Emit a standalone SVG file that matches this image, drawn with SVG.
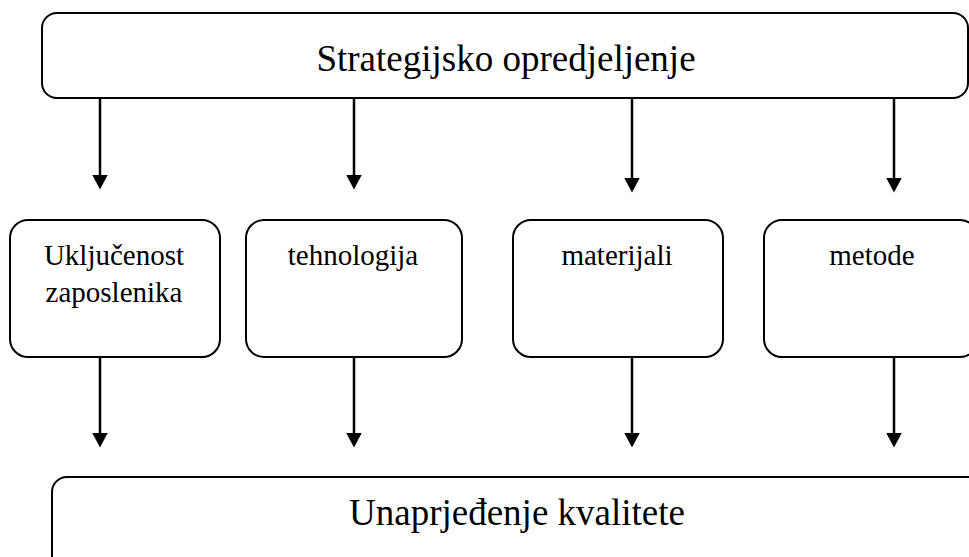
<svg xmlns="http://www.w3.org/2000/svg" width="969" height="557" viewBox="0 0 969 557">
<defs>
<style>
.box{fill:#fff;stroke:#000;stroke-width:2}
.t{font-family:"Liberation Serif","Times New Roman",serif;fill:#000;text-anchor:middle}
.big{font-size:37px}
.sm{font-size:29px}
.c{stroke:#000;stroke-width:2.5;fill:none;marker-end:url(#ah)}
</style>
<marker id="ah" markerUnits="userSpaceOnUse" markerWidth="16" markerHeight="16" viewBox="0 0 16 16" refX="0.5" refY="8" orient="auto">
<path d="M0,0 L15,8 L0,16 Z" fill="#000"/>
</marker>
</defs>
<g id="connectors">
<line class="c" x1="100" y1="99" x2="100" y2="175"/>
<line class="c" x1="354" y1="99" x2="354" y2="175"/>
<line class="c" x1="632" y1="99" x2="632" y2="178"/>
<line class="c" x1="894" y1="99" x2="894" y2="178"/>
<line class="c" x1="100" y1="357" x2="100" y2="433"/>
<line class="c" x1="354" y1="357" x2="354" y2="433"/>
<line class="c" x1="632" y1="357" x2="632" y2="433"/>
<line class="c" x1="894" y1="357" x2="894" y2="433"/>
</g>
<g id="strategy">
<rect class="box" x="42" y="13" width="926" height="85" rx="15"/>
<text class="t big" x="506" y="71">Strategijsko opredjeljenje</text>
</g>
<g id="employees">
<rect class="box" x="10" y="220" width="210" height="137" rx="18"/>
<text class="t sm" x="114" y="265">Uključenost</text>
<text class="t sm" x="114" y="302">zaposlenika</text>
</g>
<g id="technology">
<rect class="box" x="246" y="220" width="216" height="137" rx="18"/>
<text class="t sm" x="353" y="265">tehnologija</text>
</g>
<g id="materials">
<rect class="box" x="513" y="220" width="210" height="137" rx="18"/>
<text class="t sm" x="617" y="265">materijali</text>
</g>
<g id="methods">
<rect class="box" x="764" y="220" width="214" height="137" rx="18"/>
<text class="t sm" x="872" y="265">metode</text>
</g>
<g id="quality">
<rect class="box" x="52" y="477" width="940" height="110" rx="15"/>
<text class="t big" x="517" y="525">Unaprjeđenje kvalitete</text>
</g>
</svg>
